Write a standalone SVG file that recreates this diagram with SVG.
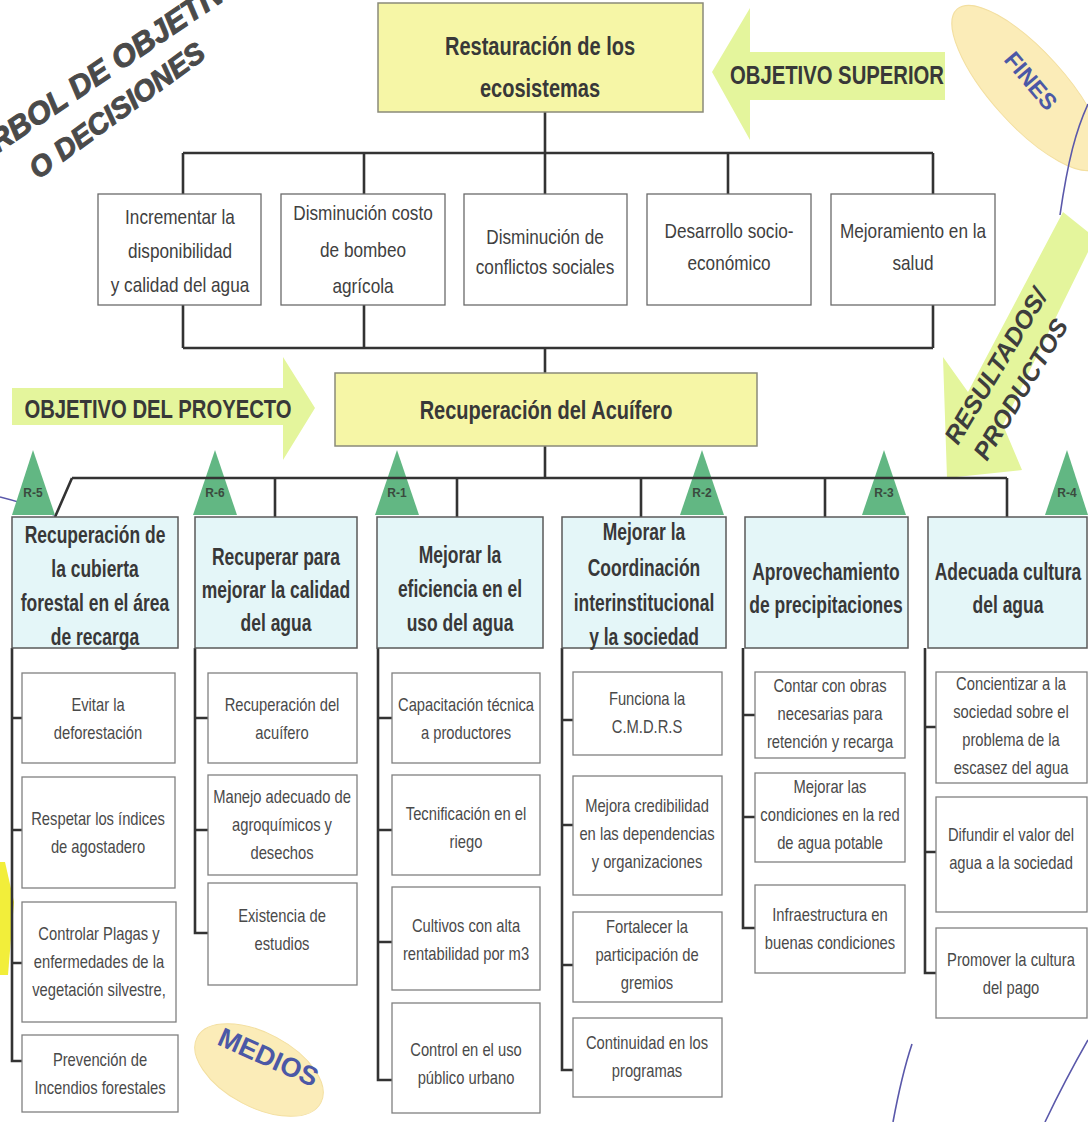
<svg xmlns="http://www.w3.org/2000/svg" width="1088" height="1122" viewBox="0 0 1088 1122" xml:space="preserve">
<style>
text{font-family:"Liberation Sans",Arial,sans-serif;}
.sub{font-size:18px;fill:#4a4a4a;text-anchor:middle;}
.r2{font-size:20px;fill:#404040;text-anchor:middle;}
.hd{font-size:23px;font-weight:bold;fill:#383838;text-anchor:middle;}
.big{font-size:26px;font-weight:bold;fill:#383838;text-anchor:middle;}
.rl{font-size:12px;font-weight:bold;fill:#3a4a3e;text-anchor:middle;}
.title{font-weight:900;font-style:italic;fill:#4a4a4a;stroke:#4a4a4a;stroke-width:1;}
.tag{font-weight:bold;fill:#4b58a6;}
.res{font-size:25px;font-weight:bold;font-style:italic;fill:#3d3d3d;}
.sb{fill:#ffffff;stroke:#808080;stroke-width:1.3;}
.hb{fill:#e4f6f8;stroke:#5a5a5a;stroke-width:1.5;}
.yb{fill:#f6f6a6;stroke:#8a8a7a;stroke-width:1.5;}
.wb{fill:#ffffff;stroke:#6a6a6a;stroke-width:1.3;}
.arr{fill:#e4f59c;}
.tri{fill:#62b783;}
.ell{fill:#fbecb8;stroke:#f3dfa0;stroke-width:1;}
.thin{fill:none;stroke:#5a58aa;stroke-width:1.6;}
</style>

<g id="title">
<text class="title" font-size="31" transform="translate(-21,166) rotate(-34)">ARBOL DE OBJETIVOS</text>
<text class="title" font-size="29" transform="translate(38,180) rotate(-36)">O  DECISIONES</text>
</g>

<g id="fines">
<ellipse class="ell" cx="1028" cy="88" rx="106" ry="37" transform="rotate(48 1028 88)"/>
<text class="tag" font-size="23" transform="translate(1003,60) rotate(50)">FINES</text>
</g>
<path class="thin" d="M1088,104 C1076,130 1068,160 1060,215"/>
<g id="medios">
<ellipse class="ell" cx="259" cy="1070" rx="70" ry="37" transform="rotate(28 259 1070)"/>
<text class="tag" font-size="27" transform="translate(216,1044) rotate(24)">MEDIOS</text>
</g>
<path class="thin" d="M912,1044 C904,1068 898,1095 893,1122"/>
<path class="thin" d="M1088,1040 C1072,1068 1058,1095 1045,1122"/>
<polygon points="0,862 5,862 14,902 8,975 0,975" fill="#f2ee3a"/>

<g id="arrow-superior">
<polygon class="arr" points="712,72 750,8 750,52 945,52 945,100 750,100 750,140"/>
<g transform="translate(837,0) scale(0.78,1)"><text class="big" x="0" y="84" font-size="24">OBJETIVO SUPERIOR</text></g>
</g>
<g id="arrow-proyecto">
<polygon class="arr" points="12,388 283,388 283,357 315,408 283,460 283,425 12,425"/>
<g transform="translate(158,0) scale(0.78,1)"><text class="big" x="0" y="418" font-size="25">OBJETIVO DEL PROYECTO</text></g>
</g>
<g id="arrow-resultados">
<polygon class="arr" points="1063,212 1088,232 1088,252 1003,425 1022,470 947,478 943,357 968,392"/>
<text class="res" transform="translate(958,446) rotate(-59)">RESULTADOS/</text>
<text class="res" transform="translate(987,462) rotate(-59)">PRODUCTOS</text>
</g>

<g id="connectors" fill="none" stroke="#333333" stroke-width="2.6">
<path d="M545,112 V153 M183,153 H933 M183,153 V194 M364,153 V194 M728,153 V194 M933,153 V194 M545,153 V194"/>
<path d="M183,305 V348 M364,305 V348 M933,305 V348 M183,348 H933 M545,348 V373"/>
<path d="M545,446 V478 M1007,478 L1007,517 M72,478 L55,517 M275,478 V517 M457,478 V517 M641,478 V517 M825,478 V517"/>
<path d="M12,648 V1061 H22 M12,718 H22 M12,830 H22 M12,963 H22"/>
<path d="M195,648 V933 H208 M195,718 H208 M195,830 H208"/>
<path d="M378,648 V1080 H392 M378,718 H392 M378,830 H392 M378,942 H392"/>
<path d="M562,648 V1070 H573 M562,720 H573 M562,825 H573 M562,965 H573"/>
<path d="M743,648 V928 H755 M743,715 H755 M743,817 H755"/>
<path d="M925,648 V973 H936 M925,727 H936 M925,852 H936"/>
</g>
<path class="thin" d="M0,497 C20,502 38,508 54,515"/>

<g id="r-labels">
<polygon class="tri" points="33,450 12,515 55,515"/><text class="rl" x="33" y="497">R-5</text>
<polygon class="tri" points="215,450 193,515 237,515"/><text class="rl" x="215" y="497">R-6</text>
<polygon class="tri" points="397,450 375,515 419,515"/><text class="rl" x="397" y="497">R-1</text>
<polygon class="tri" points="702,450 680,515 724,515"/><text class="rl" x="702" y="497">R-2</text>
<polygon class="tri" points="884,450 862,515 906,515"/><text class="rl" x="884" y="497">R-3</text>
<polygon class="tri" points="1067,450 1045,515 1088,515"/><text class="rl" x="1067" y="497">R-4</text>
</g>
<path d="M72,478 H1007" stroke="#333" stroke-width="2.6"/>

<g id="restauracion">
<rect class="yb" x="378" y="3" width="325" height="109"/>
<g transform="translate(540,0) scale(0.77,1)"><text class="big" x="0" y="55">Restauración de los</text><text class="big" x="0" y="97">ecosistemas</text></g>
</g>
<g id="fin1"><rect class="wb" x="98" y="194" width="163" height="111"/>
<g transform="translate(180,0) scale(0.86,1)"><text class="r2" x="0" y="224">Incrementar la</text><text class="r2" x="0" y="258">disponibilidad</text><text class="r2" x="0" y="292">y calidad del agua</text></g></g>
<g id="fin2"><rect class="wb" x="281" y="194" width="164" height="111"/>
<g transform="translate(363,0) scale(0.86,1)"><text class="r2" x="0" y="220">Disminución  costo</text><text class="r2" x="0" y="257">de bombeo</text><text class="r2" x="0" y="293">agrícola</text></g></g>
<g id="fin3"><rect class="wb" x="464" y="194" width="163" height="111"/>
<g transform="translate(545,0) scale(0.86,1)"><text class="r2" x="0" y="244">Disminución  de</text><text class="r2" x="0" y="274">conflictos sociales</text></g></g>
<g id="fin4"><rect class="wb" x="647" y="194" width="164" height="111"/>
<g transform="translate(729,0) scale(0.86,1)"><text class="r2" x="0" y="238">Desarrollo socio-</text><text class="r2" x="0" y="270">económico</text></g></g>
<g id="fin5"><rect class="wb" x="831" y="194" width="164" height="111"/>
<g transform="translate(913,0) scale(0.86,1)"><text class="r2" x="0" y="238">Mejoramiento  en la</text><text class="r2" x="0" y="270">salud</text></g></g>

<g id="recuperacion">
<rect class="yb" x="335" y="373" width="422" height="73"/>
<g transform="translate(546,0) scale(0.77,1)"><text class="big" x="0" y="419">Recuperación del Acuífero</text></g>
</g>

<g id="res5"><rect class="hb" x="12" y="517" width="166" height="131"/>
<g transform="translate(95,0) scale(0.76,1)"><text class="hd" x="0" y="543">Recuperación de</text><text class="hd" x="0" y="577">la cubierta</text><text class="hd" x="0" y="611">forestal en el área</text><text class="hd" x="0" y="645">de recarga</text></g></g>
<g id="res6"><rect class="hb" x="195" y="517" width="162" height="131"/>
<g transform="translate(276,0) scale(0.76,1)"><text class="hd" x="0" y="565">Recuperar para</text><text class="hd" x="0" y="598">mejorar la calidad</text><text class="hd" x="0" y="631">del agua</text></g></g>
<g id="res1"><rect class="hb" x="377" y="517" width="166" height="131"/>
<g transform="translate(460,0) scale(0.76,1)"><text class="hd" x="0" y="563">Mejorar la</text><text class="hd" x="0" y="597">eficiencia en el</text><text class="hd" x="0" y="631">uso del agua</text></g></g>
<g id="res2"><rect class="hb" x="562" y="517" width="164" height="131"/>
<g transform="translate(644,0) scale(0.76,1)"><text class="hd" x="0" y="540">Mejorar la</text><text class="hd" x="0" y="576">Coordinación</text><text class="hd" x="0" y="611">interinstitucional</text><text class="hd" x="0" y="645">y la sociedad</text></g></g>
<g id="res3"><rect class="hb" x="745" y="517" width="163" height="131"/>
<g transform="translate(826,0) scale(0.76,1)"><text class="hd" x="0" y="580">Aprovechamiento</text><text class="hd" x="0" y="613">de precipitaciones</text></g></g>
<g id="res4"><rect class="hb" x="928" y="517" width="159" height="131"/>
<g transform="translate(1008,0) scale(0.76,1)"><text class="hd" x="0" y="580">Adecuada  cultura</text><text class="hd" x="0" y="613">del agua</text></g></g>

<g id="a1"><rect class="sb" x="22" y="673" width="153" height="90"/><g transform="translate(98,0) scale(0.82,1)"><text class="sub" x="0" y="711">Evitar la</text><text class="sub" x="0" y="739">deforestación</text></g></g>
<g id="a2"><rect class="sb" x="22" y="777" width="153" height="111"/><g transform="translate(98,0) scale(0.82,1)"><text class="sub" x="0" y="825">Respetar los índices</text><text class="sub" x="0" y="853">de agostadero</text></g></g>
<g id="a3"><rect class="sb" x="22" y="902" width="154" height="120"/><g transform="translate(99,0) scale(0.82,1)"><text class="sub" x="0" y="940">Controlar Plagas y</text><text class="sub" x="0" y="968">enfermedades de la</text><text class="sub" x="0" y="996">vegetación silvestre,</text></g></g>
<g id="a4"><rect class="sb" x="22" y="1035" width="156" height="77"/><g transform="translate(100,0) scale(0.82,1)"><text class="sub" x="0" y="1066">Prevención de</text><text class="sub" x="0" y="1094">Incendios forestales</text></g></g>

<g id="b1"><rect class="sb" x="208" y="673" width="149" height="90"/><g transform="translate(282,0) scale(0.82,1)"><text class="sub" x="0" y="711">Recuperación  del</text><text class="sub" x="0" y="739">acuífero</text></g></g>
<g id="b2"><rect class="sb" x="208" y="775" width="149" height="100"/><g transform="translate(282,0) scale(0.82,1)"><text class="sub" x="0" y="803">Manejo adecuado de</text><text class="sub" x="0" y="831">agroquímicos y</text><text class="sub" x="0" y="859">desechos</text></g></g>
<g id="b3"><rect class="sb" x="208" y="883" width="149" height="102"/><g transform="translate(282,0) scale(0.82,1)"><text class="sub" x="0" y="922">Existencia de</text><text class="sub" x="0" y="950">estudios</text></g></g>

<g id="c1"><rect class="sb" x="392" y="673" width="148" height="90"/><g transform="translate(466,0) scale(0.82,1)"><text class="sub" x="0" y="711">Capacitación técnica</text><text class="sub" x="0" y="739">a productores</text></g></g>
<g id="c2"><rect class="sb" x="392" y="775" width="148" height="100"/><g transform="translate(466,0) scale(0.82,1)"><text class="sub" x="0" y="820">Tecnificación en el</text><text class="sub" x="0" y="848">riego</text></g></g>
<g id="c3"><rect class="sb" x="392" y="887" width="148" height="103"/><g transform="translate(466,0) scale(0.82,1)"><text class="sub" x="0" y="932">Cultivos con alta</text><text class="sub" x="0" y="960">rentabilidad por m3</text></g></g>
<g id="c4"><rect class="sb" x="392" y="1003" width="148" height="110"/><g transform="translate(466,0) scale(0.82,1)"><text class="sub" x="0" y="1056">Control en el uso</text><text class="sub" x="0" y="1084">público urbano</text></g></g>

<g id="d1"><rect class="sb" x="573" y="672" width="149" height="83"/><g transform="translate(647,0) scale(0.82,1)"><text class="sub" x="0" y="705">Funciona la</text><text class="sub" x="0" y="733">C.M.D.R.S</text></g></g>
<g id="d2"><rect class="sb" x="573" y="776" width="149" height="119"/><g transform="translate(647,0) scale(0.82,1)"><text class="sub" x="0" y="812">Mejora credibilidad</text><text class="sub" x="0" y="840">en las dependencias</text><text class="sub" x="0" y="868">y organizaciones</text></g></g>
<g id="d3"><rect class="sb" x="573" y="912" width="149" height="90"/><g transform="translate(647,0) scale(0.82,1)"><text class="sub" x="0" y="933">Fortalecer la</text><text class="sub" x="0" y="961">participación de</text><text class="sub" x="0" y="989">gremios</text></g></g>
<g id="d4"><rect class="sb" x="573" y="1018" width="149" height="79"/><g transform="translate(647,0) scale(0.82,1)"><text class="sub" x="0" y="1049">Continuidad en los</text><text class="sub" x="0" y="1077">programas</text></g></g>

<g id="e1"><rect class="sb" x="755" y="672" width="150" height="86"/><g transform="translate(830,0) scale(0.82,1)"><text class="sub" x="0" y="692">Contar con obras</text><text class="sub" x="0" y="720">necesarias para</text><text class="sub" x="0" y="748">retención y recarga</text></g></g>
<g id="e2"><rect class="sb" x="755" y="773" width="150" height="89"/><g transform="translate(830,0) scale(0.82,1)"><text class="sub" x="0" y="793">Mejorar las</text><text class="sub" x="0" y="821">condiciones en la red</text><text class="sub" x="0" y="849">de agua potable</text></g></g>
<g id="e3"><rect class="sb" x="755" y="885" width="150" height="88"/><g transform="translate(830,0) scale(0.82,1)"><text class="sub" x="0" y="921">Infraestructura en</text><text class="sub" x="0" y="949">buenas condiciones</text></g></g>

<g id="f1"><rect class="sb" x="936" y="672" width="151" height="111"/><g transform="translate(1011,0) scale(0.82,1)"><text class="sub" x="0" y="690">Concientizar a la</text><text class="sub" x="0" y="718">sociedad sobre el</text><text class="sub" x="0" y="746">problema de la</text><text class="sub" x="0" y="774">escasez del agua</text></g></g>
<g id="f2"><rect class="sb" x="936" y="797" width="151" height="115"/><g transform="translate(1011,0) scale(0.82,1)"><text class="sub" x="0" y="841">Difundir el valor del</text><text class="sub" x="0" y="869">agua  a la sociedad</text></g></g>
<g id="f3"><rect class="sb" x="936" y="928" width="151" height="90"/><g transform="translate(1011,0) scale(0.82,1)"><text class="sub" x="0" y="966">Promover la cultura</text><text class="sub" x="0" y="994">del pago</text></g></g>
</svg>
